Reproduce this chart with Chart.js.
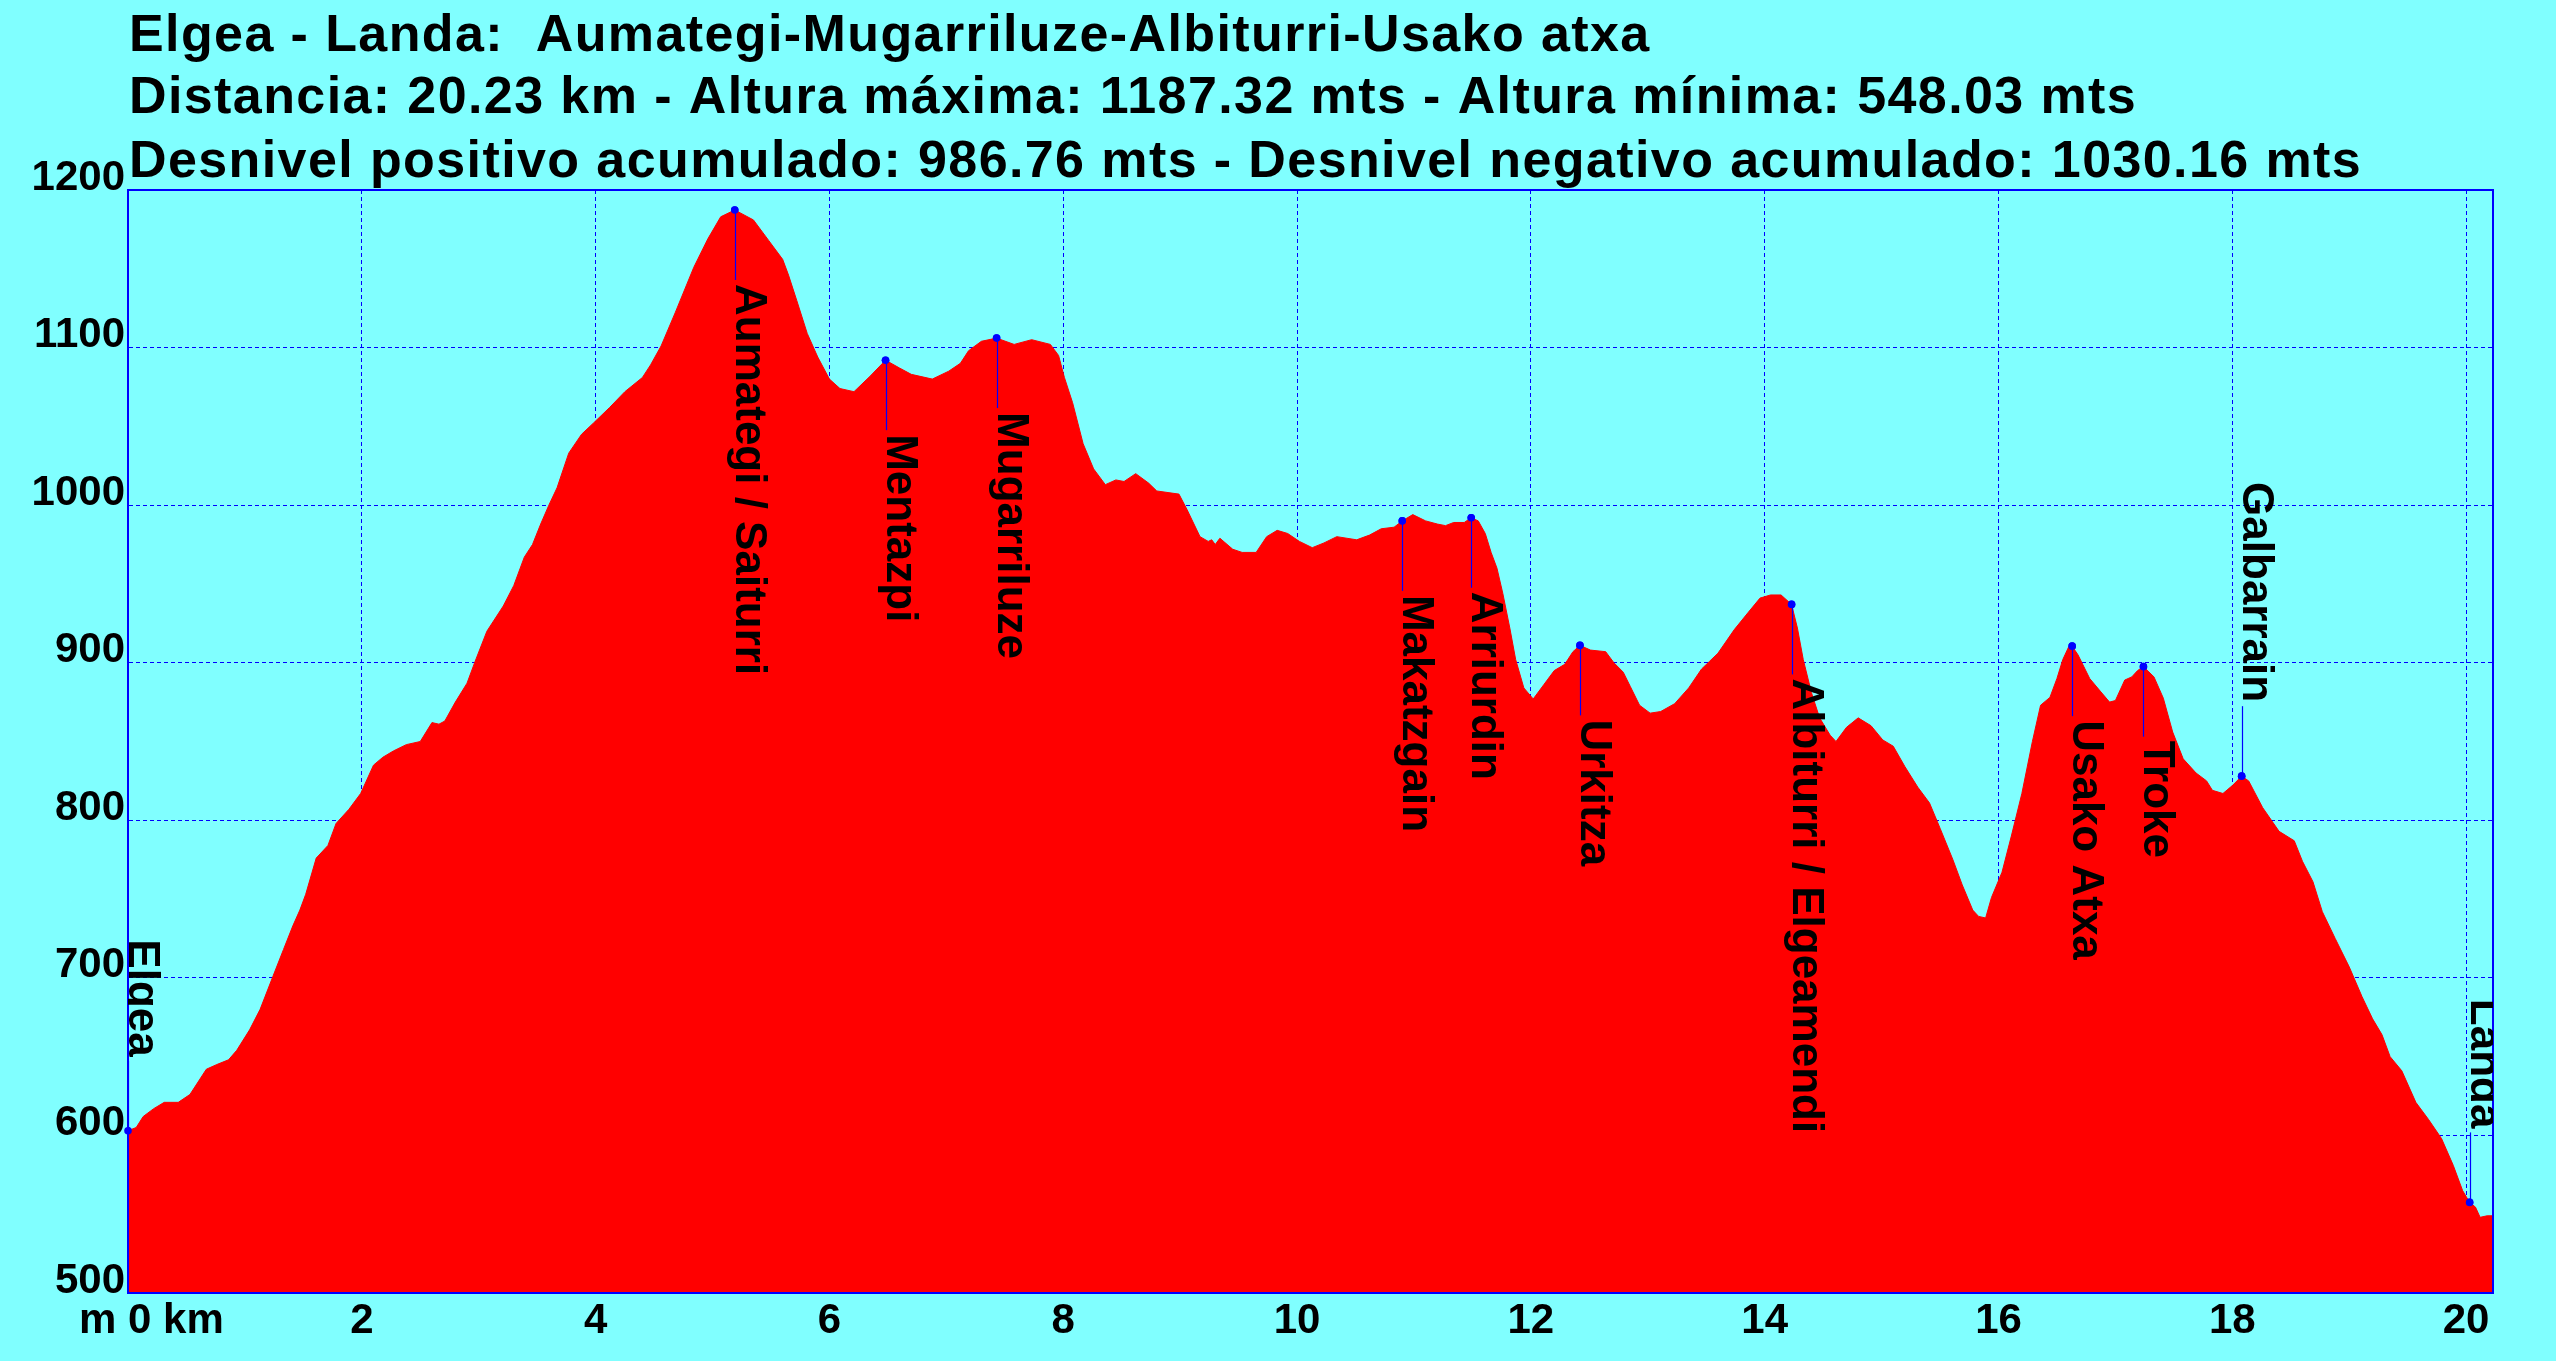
<!DOCTYPE html>
<html>
<head>
<meta charset="utf-8">
<script src="https://cdn.jsdelivr.net/npm/chart.js@4.4.1/dist/chart.umd.min.js"></script>
<style>
  html, body { margin: 0; padding: 0; background: #80ffff; overflow: hidden; }
  canvas { display: block; }
</style>
</head>
<body>
<canvas id="c" width="2556" height="1361"></canvas>
<script>
// ---- data ----
const titleLines = [
  'Elgea - Landa:  Aumategi-Mugarriluze-Albiturri-Usako atxa',
  'Distancia: 20.23 km - Altura máxima: 1187.32 mts - Altura mínima: 548.03 mts',
  'Desnivel positivo acumulado: 986.76 mts - Desnivel negativo acumulado: 1030.16 mts'
];

const distKm = [
  0.00,0.07,0.13,0.22,0.31,0.36,0.43,0.53,0.67,0.76,0.86,0.93,1.04,1.13,1.24,1.33,1.41,1.47,1.52,1.61,1.71,1.78,1.89,1.99,
  2.10,2.18,2.27,2.38,2.50,2.60,2.66,2.71,2.80,2.90,2.97,3.07,3.21,3.30,3.39,3.46,3.53,3.60,3.67,3.77,3.88,3.98,
  4.12,4.25,4.40,4.47,4.56,4.68,4.84,4.96,5.07,5.19,5.35,5.48,5.60,5.65,5.72,5.81,5.90,6.00,6.09,6.21,6.35,6.48,
  6.60,6.70,6.88,7.02,7.12,7.19,7.30,7.43,7.58,7.73,7.89,7.96,8.01,8.08,8.17,8.26,8.36,8.45,8.52,8.62,8.73,8.80,
  8.99,9.06,9.17,9.24,9.27,9.30,9.34,9.45,9.53,9.65,9.74,9.83,9.92,10.02,10.13,10.23,10.34,10.51,10.62,10.72,10.83,
  10.90,10.99,11.10,11.20,11.27,11.34,11.43,11.49,11.55,11.61,11.66,11.71,11.76,11.82,11.87,11.94,12.02,12.11,12.20,
  12.29,12.36,12.42,12.51,12.64,12.71,12.79,12.85,12.93,13.02,13.11,13.23,13.35,13.46,13.53,13.60,13.74,13.86,13.96,
  14.05,14.14,14.23,14.28,14.33,14.40,14.47,14.56,14.61,14.70,14.80,14.91,15.01,15.10,15.20,15.31,15.41,15.50,15.61,
  15.69,15.78,15.83,15.89,15.94,16.03,16.11,16.20,16.29,16.36,16.44,16.50,16.55,16.60,16.63,16.68,16.78,16.87,16.95,
  17.00,17.08,17.14,17.19,17.24,17.33,17.41,17.49,17.58,17.69,17.78,17.83,17.92,18.00,18.08,18.14,18.26,18.40,18.53,
  18.60,18.69,18.77,18.88,19.00,19.11,19.20,19.28,19.35,19.45,19.57,19.68,19.79,19.89,19.97,20.03,20.08,20.12,20.18,20.23
];
const elevM = [
  603,605,612,617,621,621,621,626,642,645,648,654,667,680,701,718,733,743,753,776,784,798,807,817,
  835,840,844,848,850,862,861,863,875,887,901,920,936,949,967,975,988,1000,1011,1033,1045,1052,
  1062,1072,1081,1089,1101,1122,1151,1169,1183,1187.32,1181,1168,1156,1146,1130,1109,1094,1080,1074,1072,1082,1092,
  1087,1083,1080,1085,1090,1098,1104,1106,1102,1105,1102,1095,1081,1065,1039,1023,1013,1016,1015,1020,1014,1009,
  1007,997,980,977,978,975,979,972,970,970,980,984,982,977,973,976,980,978,981,985,986,
  990,994,990,988,987,989,989,992,990,982,970,960,944,922,902,884,877,886,895,
  899,907,911,908,907,900,894,885,873,868,869,874,884,896,901,906,921,932,941,
  943,943,937,922,902,881,865,854,850,859,865,860,851,847,834,821,811,795,775,
  759,743,739,738,751,767,790,817,850,873,878,890,902,910,910.5,905,890,882,875,
  876,889,891,895,897.5,891,877.5,856,839,830,825,819,817,822,828,825,808,793,787,
  774,761,742,725,707,688,674,664,650,641,621,610,598,581,565,557.5,554.5,548.03,549,549
];

const wpNames = ['Elgea','Aumategi / Saiturri','Mentazpi','Mugarriluze','Makatzgain','Arriurdin','Urkitza',
                 'Albiturri / Elgeamendi','Usako Atxa','Troke','Galbarrain','Landa'];
const wpKm    = [0.00, 5.19, 6.48, 7.43, 10.90, 11.49, 12.42, 14.23, 16.63, 17.24, 18.08, 20.03];
const wpElev  = [603, 1187.32, 1092, 1106, 990, 992, 911, 937, 910.5, 897.5, 828, 557.5];

const xTicks = [0,2,4,6,8,10,12,14,16,18,20];
const yTicks = [500,600,700,800,900,1000,1100,1200];
const xMax = 20.23;

// ---- styles ----
const FONT = '"Liberation Sans", Arial, sans-serif';
const BLUE = '#0000ff';

const profile = distKm.map((d, i) => ({ x: d, y: elevM[i] }));
const waypoints = wpKm.map((d, i) => ({ x: d, y: wpElev[i] }));

const decorPlugin = {
  id: 'decor',
  beforeDraw(chart) {
    const ctx = chart.ctx;
    ctx.save();
    ctx.fillStyle = '#80ffff';
    ctx.fillRect(0, 0, chart.width, chart.height);
    ctx.restore();
  },
  afterDraw(chart, args, opts) {
    const ctx = chart.ctx;
    const a = chart.chartArea;
    const xs = chart.scales.x, ys = chart.scales.y;
    ctx.save();
    // title
    ctx.fillStyle = '#000';
    ctx.font = 'bold 52px ' + FONT;
    try { ctx.letterSpacing = '1.4px'; } catch (e) {}
    ctx.textAlign = 'left';
    ctx.textBaseline = 'alphabetic';
    opts.titleBaselines.forEach((b, i) => ctx.fillText(titleLines[i], opts.titleX, b));
    try { ctx.letterSpacing = '0px'; } catch (e) {}
    // first x label "m 0 km"
    ctx.font = 'bold 42px ' + FONT;
    const pre = ctx.measureText('m ').width;
    ctx.fillText('m 0 km', xs.getPixelForValue(0) - pre, opts.xLabelBaseline);
    // plot frame
    ctx.strokeStyle = BLUE;
    ctx.lineWidth = 2;
    ctx.strokeRect(a.left, a.top, a.right - a.left, a.bottom - a.top);
    // waypoint labels
    ctx.beginPath();
    ctx.rect(a.left, a.top, a.right - a.left, a.bottom - a.top);
    ctx.clip();
    ctx.font = 'bold 44px ' + FONT;
    wpNames.forEach((name, i) => {
      const px = Math.round(xs.getPixelForValue(wpKm[i])) + 0.5;
      const py = ys.getPixelForValue(wpElev[i]);
      const w = ctx.measureText(name).width;
      const above = opts.above.includes(name);
      ctx.strokeStyle = BLUE;
      ctx.lineWidth = 1.2;
      ctx.beginPath();
      let ty;
      if (above) {
        ctx.moveTo(px, py); ctx.lineTo(px, py - opts.stem);
        ty = py - opts.stem - opts.gap - w;
      } else {
        ctx.moveTo(px, py); ctx.lineTo(px, py + opts.stem);
        ty = py + opts.stem + opts.gap;
      }
      ctx.stroke();
      ctx.save();
      ctx.translate(px, ty);
      ctx.rotate(Math.PI / 2);
      ctx.fillStyle = '#000';
      ctx.textAlign = 'left';
      ctx.textBaseline = 'alphabetic';
      ctx.fillText(name, 0, 0);
      ctx.restore();
    });
    // dots on top of stems
    ctx.fillStyle = BLUE;
    wpKm.forEach((d, i) => {
      ctx.beginPath();
      ctx.arc(xs.getPixelForValue(d), ys.getPixelForValue(wpElev[i]), 3.8, 0, Math.PI * 2);
      ctx.fill();
    });
    ctx.restore();
  }
};

new Chart(document.getElementById('c'), {
  type: 'line',
  data: {
    datasets: [
      {
        data: profile,
        borderColor: '#ff0000',
        backgroundColor: '#ff0000',
        borderWidth: 1,
        fill: 'start',
        pointRadius: 0,
        tension: 0
      },
      {
        type: 'scatter',
        data: waypoints,
        pointRadius: 3.8,
        backgroundColor: BLUE,
        borderColor: BLUE,
        borderWidth: 0,
        clip: 6
      }
    ]
  },
  options: {
    responsive: false,
    devicePixelRatio: 1,
    animation: false,
    events: [],
    layout: { padding: { left: 0, right: 63, top: 190, bottom: 0 } },
    plugins: {
      legend: { display: false },
      tooltip: { enabled: false },
      title: { display: false },
      decor: {
        titleX: 129,
        titleBaselines: [51, 113, 177],
        xLabelBaseline: 1333,
        stem: 70,
        gap: 4,
        above: ['Elgea', 'Galbarrain', 'Landa']
      }
    },
    scales: {
      x: {
        type: 'linear',
        min: 0,
        max: xMax,
        z: 1,
        afterBuildTicks: (s) => { s.ticks = xTicks.map(v => ({ value: v })); },
        afterFit: (s) => { s.height = 68; },
        grid: { color: BLUE, lineWidth: 1, drawTicks: false },
        border: { display: true, color: BLUE, width: 2, dash: [4, 3] },
        ticks: {
          color: '#000',
          font: { family: FONT, size: 42, weight: 'bold' },
          padding: 3,
          maxRotation: 0,
          autoSkip: false,
          callback: (v) => (v === 0 ? '' : String(v))
        }
      },
      y: {
        type: 'linear',
        min: 500,
        max: 1200,
        z: 1,
        afterBuildTicks: (s) => { s.ticks = yTicks.map(v => ({ value: v })); },
        afterFit: (s) => { s.width = 128; },
        grid: { color: BLUE, lineWidth: 1, drawTicks: false },
        border: { display: true, color: BLUE, width: 2, dash: [4, 3] },
        ticks: {
          color: '#000',
          font: { family: FONT, size: 42, weight: 'bold' },
          padding: 3,
          labelOffset: -12,
          autoSkip: false,
          callback: (v) => String(v)
        }
      }
    }
  },
  plugins: [decorPlugin]
});
</script>
</body>
</html>
